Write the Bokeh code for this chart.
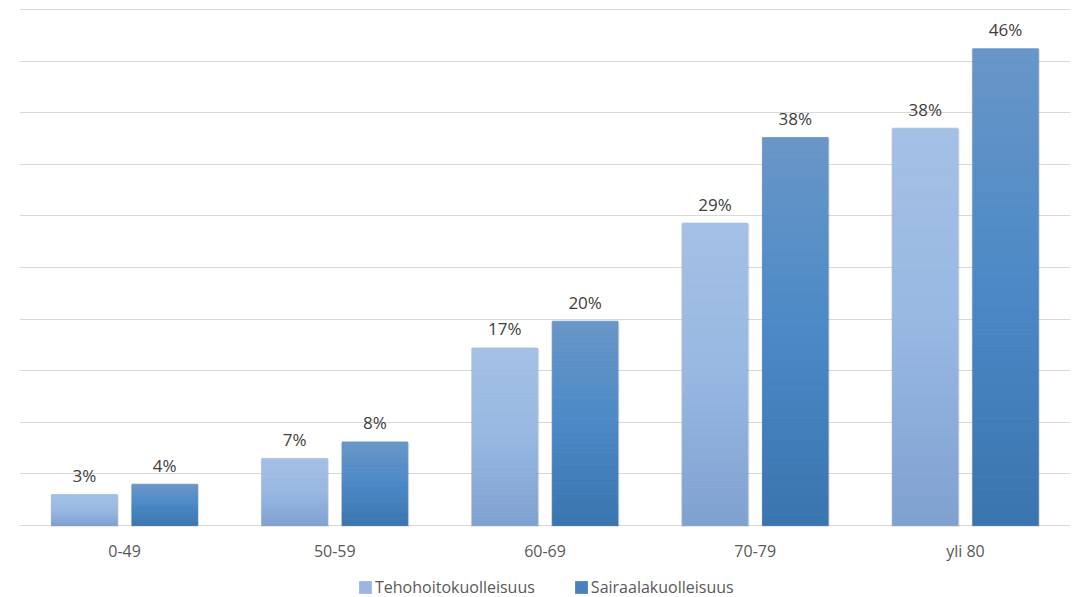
from bokeh.plotting import figure
from bokeh.models import FactorRange, Range1d, ColumnDataSource, Grid, FixedTicker, Legend, LegendItem
from bokeh.transform import dodge
from bokeh.core.properties import value
from bokeh.embed import file_html
from bokeh.resources import INLINE

# ---- data ----
categories = ["0-49", "50-59", "60-69", "70-79", "yli 80"]
series_names = ["Tehohoitokuolleisuus", "Sairaalakuolleisuus"]
teho = [3.0, 6.5, 17.2, 29.3, 38.5]
sairaala = [4.0, 8.1, 19.8, 37.6, 46.2]
teho_labels = ["3%", "7%", "17%", "29%", "38%"]
sairaala_labels = ["4%", "8%", "20%", "38%", "46%"]
y_ticks = [0, 5, 10, 15, 20, 25, 30, 35, 40, 45, 50]

# ---- styles ----
light_stops = ["#a4c0e5", "#98b8e2", "#7fa1d0"]
dark_stops = ["#6996c8", "#4b89c6", "#3a74af"]
legend_colors = ["#9ab8df", "#4a80bd"]
offsets = [-0.191, 0.191]
bar_w = 0.312
N = 40

px_per_unit = 516 / 50.0
y_start = -(597 - 525) / px_per_unit
y_end = 50 + 9 / px_per_unit

p = figure(width=1081, height=597,
           x_range=FactorRange(*categories), y_range=Range1d(y_start, y_end),
           x_axis_type=None, y_axis_type=None,
           toolbar_location=None, output_backend="svg",
           min_border_left=19, min_border_right=11, min_border_top=0, min_border_bottom=0,
           outline_line_color=None, background_fill_color="white")

p.add_layout(Grid(dimension=1, ticker=FixedTicker(ticks=y_ticks),
                  grid_line_color="#d9d9d9", grid_line_width=1))


def hex2rgb(h):
    h = h.lstrip("#")
    return tuple(int(h[i:i + 2], 16) for i in (0, 2, 4))


def interp(stops, t):
    # t: 0 at top, 1 at bottom
    n = len(stops) - 1
    pos = t * n
    i = min(int(pos), n - 1)
    f = pos - i
    a, b = hex2rgb(stops[i]), hex2rgb(stops[i + 1])
    c = [round(a[j] + (b[j] - a[j]) * f) for j in range(3)]
    return "#%02x%02x%02x" % tuple(c)


for vals, labels, off, stops in [(teho, teho_labels, offsets[0], light_stops),
                                 (sairaala, sairaala_labels, offsets[1], dark_stops)]:
    # shadow
    sh = ColumnDataSource(dict(cat=categories, top=[v - 0.08 for v in vals],
                               bottom=[-0.12] * len(vals)))
    p.vbar(x=dodge("cat", off + 0.001, range=p.x_range), top="top", bottom="bottom",
           width=bar_w + 0.012, source=sh, fill_color="#000000", fill_alpha=0.13, line_color=None)
    # gradient segments
    cats, bots, tops, cols = [], [], [], []
    for c, v in zip(categories, vals):
        for k in range(N):
            cats.append(c)
            bots.append(v * k / N)
            tops.append(v * (k + 1) / N)
            cols.append(interp(stops, 1 - (k + 0.5) / N))
    seg = ColumnDataSource(dict(cat=cats, bottom=bots, top=tops, color=cols))
    p.vbar(x=dodge("cat", off, range=p.x_range), top="top", bottom="bottom", width=bar_w,
           source=seg, fill_color="color", line_color="color", line_width=0.8)
    # data labels
    lab = ColumnDataSource(dict(cat=categories, val=vals, text=labels))
    p.text(x=dodge("cat", off, range=p.x_range), y="val", text="text", source=lab,
           text_align="center", text_baseline="alphabetic", y_offset=-19,
           text_font=value("Open Sans"), text_font_size="17px", text_color="#404040")

# category labels
cs = ColumnDataSource(dict(cat=categories, base=[0] * len(categories), text=categories))
p.text(x="cat", y="base", text="text", source=cs, text_align="center",
       text_baseline="alphabetic", y_offset=25,
       text_font=value("Open Sans"), text_font_size="16px", text_color="#595959")

# legend (zero-height proxy bars, invisible in the plot)
r1 = p.vbar(x=[categories[0]], top=[0], bottom=[0], width=0.3,
            fill_color=legend_colors[0], line_color=None)
r2 = p.vbar(x=[categories[0]], top=[0], bottom=[0], width=0.3,
            fill_color=legend_colors[1], line_color=None)
legend = Legend(items=[LegendItem(label=series_names[0], renderers=[r1]),
                       LegendItem(label=series_names[1], renderers=[r2])],
                orientation="horizontal", location=(338, -1),
                glyph_width=16, glyph_height=16, label_standoff=2, spacing=38,
                padding=0, margin=0, border_line_color=None, background_fill_alpha=0,
                label_text_font="Open Sans", label_text_font_size="16px",
                label_text_color="#595959")
p.add_layout(legend)

open("out.html", "w").write(file_html(p, INLINE))
